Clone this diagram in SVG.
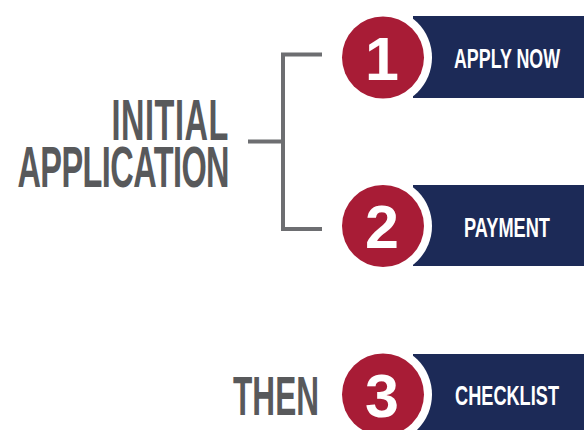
<svg xmlns="http://www.w3.org/2000/svg" width="584" height="430" viewBox="0 0 584 430">
<style>
.head{font-family:"Liberation Sans",Arial,sans-serif;font-weight:bold;fill:#58595b;font-size:58px;text-anchor:end}
.lbl{font-family:"Liberation Sans",Arial,sans-serif;font-weight:bold;fill:#ffffff;font-size:28px;text-anchor:middle}
.num{font-family:"Liberation Sans",Arial,sans-serif;font-weight:bold;fill:#ffffff;font-size:61px;text-anchor:middle}
.box{fill:#1c2a57}
.ring{fill:#ffffff}
.dot{fill:#a81c36}
.br{fill:none;stroke:#6d6e71;stroke-width:4;stroke-linecap:butt}
</style>
<rect width="584" height="430" fill="#ffffff"/>
<g id="title">
<text class="head" transform="translate(229,0) scale(0.56,1)"><tspan x="0" y="140" letter-spacing="1">INITIAL</tspan><tspan x="0" y="187" letter-spacing="-1">APPLICATION</tspan></text>
</g>
<g id="then">
<text class="head" style="font-size:56px" transform="translate(319,415) scale(0.564,1)">THEN</text>
</g>
<g id="connectors">
<path class="br" d="M322,54.5 H283 V229 H322"/>
<path class="br" d="M248,141.5 H283"/>
</g>
<g id="step1">
<rect class="box" x="413" y="16" width="171" height="82"/>
<circle class="ring" cx="383" cy="57.5" r="49"/>
<circle class="dot" cx="383" cy="57.5" r="41"/>
<text class="num" x="382" y="80">1</text>
<text class="lbl" transform="translate(507,68) scale(0.637,1)">APPLY NOW</text>
</g>
<g id="step2">
<rect class="box" x="413" y="185" width="171" height="81"/>
<circle class="ring" cx="383" cy="226" r="49"/>
<circle class="dot" cx="383" cy="226" r="41"/>
<text class="num" x="382" y="248">2</text>
<text class="lbl" transform="translate(507,237) scale(0.65,1)">PAYMENT</text>
</g>
<g id="step3">
<rect class="box" x="413" y="354" width="171" height="82"/>
<circle class="ring" cx="383" cy="394.5" r="49"/>
<circle class="dot" cx="383" cy="394.5" r="41"/>
<text class="num" x="382" y="417">3</text>
<text class="lbl" transform="translate(507,405) scale(0.649,1)">CHECKLIST</text>
</g>
</svg>
